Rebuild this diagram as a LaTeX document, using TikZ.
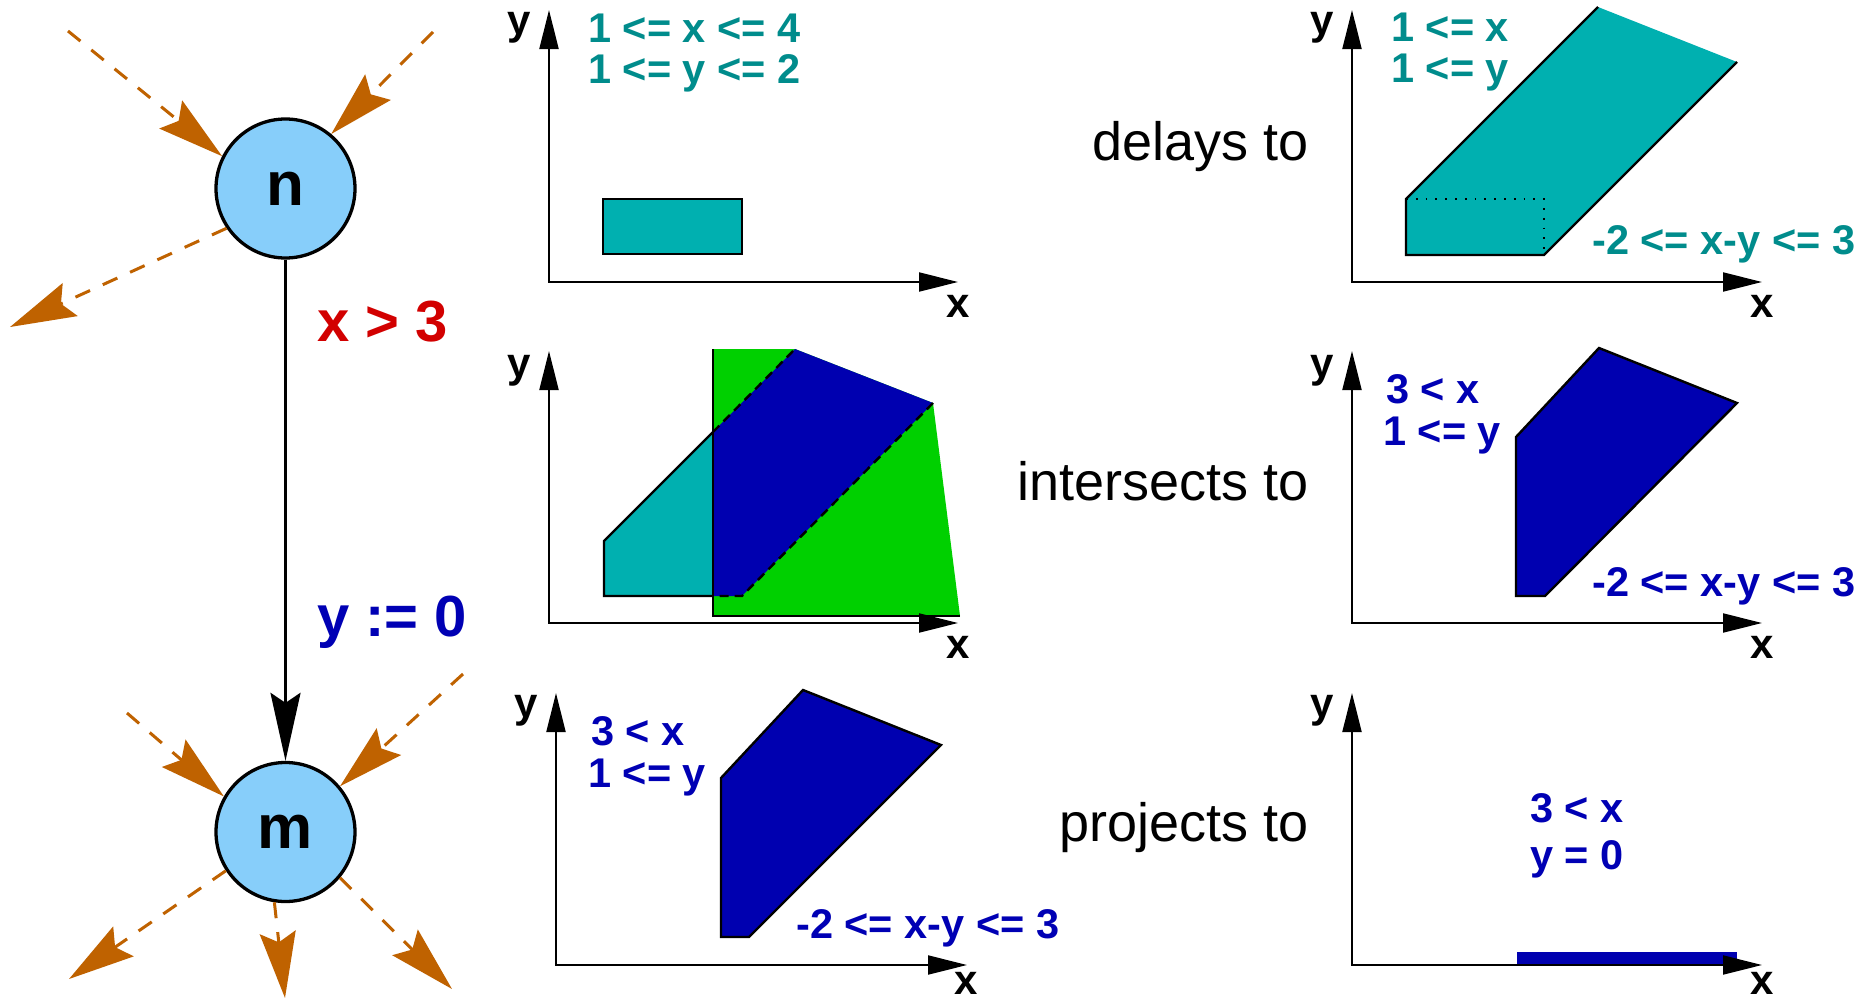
\documentclass[tikz,border=0pt]{standalone}
\usepackage{fontspec}
\setmainfont{Liberation Sans}
\usetikzlibrary{arrows.meta}
\definecolor{circfill}{RGB}{135,206,250}
\definecolor{orng}{RGB}{191,98,0}
\definecolor{tealfill}{RGB}{0,176,176}
\definecolor{tealtext}{RGB}{0,140,140}
\definecolor{bluefill}{RGB}{0,0,176}
\definecolor{bluetext}{RGB}{0,0,180}
\definecolor{grn}{RGB}{0,208,0}
\definecolor{redtext}{RGB}{210,0,0}
\begin{document}
\begin{tikzpicture}[x=1pt,y=-1pt,
  state/.style={circle, draw=black, line width=3.3pt, fill=circfill, minimum size=139pt, inner sep=0pt, font=\bfseries\fontsize{62}{62}\selectfont},
  oarr/.style={draw=orng, line width=3pt, dash pattern=on 16pt off 14pt, -{Stealth[length=66pt 0,width=36pt 0,inset=10pt 0]}},
  tarr/.style={draw=black, line width=3pt, -{Stealth[length=68pt 0,width=30pt 0,inset=10pt 0]}},
  biglbl/.style={inner sep=0pt, anchor=base west, font=\bfseries\fontsize{58}{60}\selectfont},
  midlbl/.style={inner sep=0pt, anchor=base east, font=\fontsize{54}{56}\selectfont},
  ctext/.style={inner sep=0pt, anchor=base west, font=\bfseries\fontsize{41.5}{44}\selectfont},
  axlbl/.style={inner sep=0pt, anchor=base, font=\bfseries\fontsize{42}{44}\selectfont},
  ax/.style={line width=2pt, >={Triangle[length=39pt 0,width=19pt 0]}, <->},
  edge/.style={line width=2.4pt, line join=miter},
  dedge/.style={line width=2.4pt, dash pattern=on 9pt off 6pt},
  dotedge/.style={line width=1.8pt, dash pattern=on 1.8pt off 8pt}
]
\useasboundingbox (0,0) rectangle (1875,1002);
\fill[white] (0,0) rectangle (1875,1002);

% ---------- automaton ----------
\node[state] (n) at (285.5,188.5) {n};
\node[state] (m) at (285.5,832) {m};
\draw[tarr] (n) -- (m);
\node[biglbl, text=redtext] (guard) at (317,341) {x > 3};
\node[biglbl, text=bluetext] (reset) at (317,636) {y := 0};

\coordinate (na) at (68,31);   \draw[oarr] (na) -- (n.153);
\coordinate (nb) at (433,32);  \draw[oarr] (nb) -- (n.50);
\coordinate (nc) at (10,327);  \draw[oarr] (n.214) -- (nc);
\coordinate (ma) at (127,713); \draw[oarr] (ma) -- (m.150);
\coordinate (mb) at (463,674); \draw[oarr] (mb) -- (m.40);
\coordinate (mc) at (69,979);  \draw[oarr] (m.213) -- (mc);
\coordinate (md) at (285,998); \draw[oarr] (m.261) -- (md);
\coordinate (me) at (452,989); \draw[oarr] (m.320) -- (me);

% ---------- middle labels ----------
\node[midlbl] (delays) at (1309,160) {delays to};
\node[midlbl] (inters) at (1309,500) {intersects to};
\node[midlbl] (projs) at (1309,841) {projects to};

% ---------- plot 1 ----------
\fill[tealfill] (603,199) rectangle (742,254);
\draw[edge] (603,199) rectangle (742,254);
\draw[ax] (549,10) -- (549,282) -- (958,282);
\node[axlbl] (p1y) at (519,34) {y};
\node[axlbl] (p1x) at (958,317) {x};
\node[ctext, text=tealtext] (p1a) at (588,42) {1 <= x <= 4};
\node[ctext, text=tealtext] (p1b) at (588,83) {1 <= y <= 2};

% ---------- plot 2 ----------
\fill[tealfill] (604,596) -- (604,541) -- (713,432) -- (713,596) -- cycle;
\fill[grn] (713,349) -- (795,349) -- (933,403) -- (960,616) -- (713,616) -- cycle;
\fill[bluefill] (713,432) -- (795,349) -- (933,403) -- (742,596) -- (713,596) -- cycle;
\draw[edge] (713,596) -- (604,596) -- (604,541) -- (713,432);
\draw[edge] (713,349) -- (713,616) -- (960,616);
\draw[dedge] (713,432) -- (795,349);
\draw[dedge] (933,403) -- (742,596) -- (713,596);
\draw[ax] (549,351) -- (549,623) -- (958,623);
\node[axlbl] (p2y) at (519,377) {y};
\node[axlbl] (p2x) at (958,658) {x};

% ---------- plot 3 ----------
\filldraw[fill=bluefill, draw=black, edge] (721,937) -- (721,778) -- (803,690) -- (941,745) -- (749,937) -- cycle;
\draw[ax] (556,693) -- (556,965) -- (967,965);
\node[axlbl] (p3y) at (526,717) {y};
\node[axlbl] (p3x) at (966,994) {x};
\node[ctext, text=bluetext] (p3a) at (591,745) {3 < x};
\node[ctext, text=bluetext] (p3b) at (588,787) {1 <= y};
\node[ctext, text=bluetext] (p3c) at (796,938) {-2 <= x-y <= 3};

% ---------- plot 4 ----------
\fill[tealfill] (1406,255) -- (1406,199) -- (1598,7) -- (1737,62) -- (1544,255) -- cycle;
\draw[edge] (1737,62) -- (1544,255) -- (1406,255) -- (1406,199) -- (1598,7);
\draw[dotedge] (1406,199) -- (1544,199) -- (1544,255);
\draw[ax] (1352,10) -- (1352,282) -- (1762,282);
\node[axlbl] (p4y) at (1322,34) {y};
\node[axlbl] (p4x) at (1762,317) {x};
\node[ctext, text=tealtext] (p4a) at (1391,41) {1 <= x};
\node[ctext, text=tealtext] (p4b) at (1391,82) {1 <= y};
\node[ctext, text=tealtext] (p4c) at (1592,254) {-2 <= x-y <= 3};

% ---------- plot 5 ----------
\filldraw[fill=bluefill, draw=black, edge] (1516,596) -- (1516,437) -- (1599,348) -- (1737,403) -- (1545,596) -- cycle;
\draw[ax] (1352,351) -- (1352,623) -- (1762,623);
\node[axlbl] (p5y) at (1322,377) {y};
\node[axlbl] (p5x) at (1762,658) {x};
\node[ctext, text=bluetext] (p5a) at (1386,403) {3 < x};
\node[ctext, text=bluetext] (p5b) at (1383,445) {1 <= y};
\node[ctext, text=bluetext] (p5c) at (1592,596) {-2 <= x-y <= 3};

% ---------- plot 6 ----------
\fill[bluefill] (1517,952) rectangle (1737,966);
\draw[ax] (1352,693) -- (1352,965) -- (1762,965);
\node[axlbl] (p6y) at (1322,717) {y};
\node[axlbl] (p6x) at (1762,994) {x};
\node[ctext, text=bluetext] (p6a) at (1530,822) {3 < x};
\node[ctext, text=bluetext] (p6b) at (1530,869) {y = 0};
\end{tikzpicture}
\end{document}
